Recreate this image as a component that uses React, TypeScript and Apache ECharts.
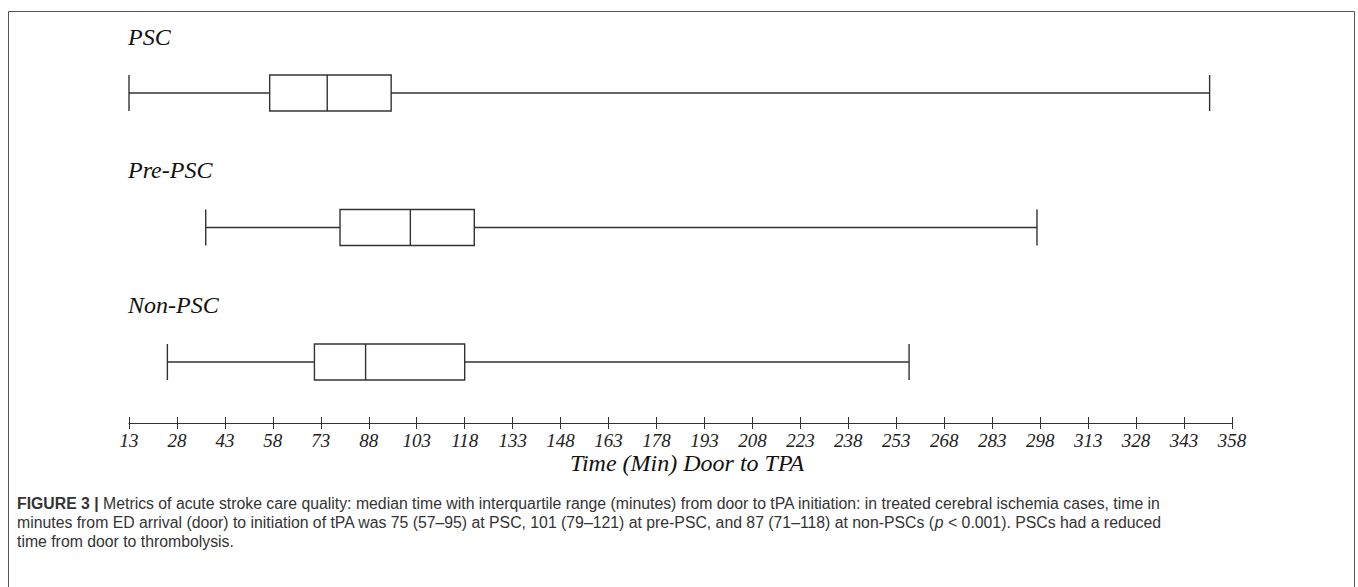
import React, { useEffect, useRef } from "react";
import * as echarts from "echarts";

const categories = ["PSC", "Pre-PSC", "Non-PSC"];
const whiskerLow = [13, 37, 25];
const q1 = [57, 79, 71];
const median = [75, 101, 87];
const q3 = [95, 121, 118];
const whiskerHigh = [351, 297, 257];
const tickValues = [13, 28, 43, 58, 73, 88, 103, 118, 133, 148, 163, 178, 193, 208, 223, 238, 253, 268, 283, 298, 313, 328, 343, 358];
const axisMin = 13;
const axisMax = 358;
const axisTitle = "Time (Min) Door to TPA";
const captionLines = [
  "{b|FIGURE 3 |} Metrics of acute stroke care quality: median time with interquartile range (minutes) from door to tPA initiation: in treated cerebral ischemia cases, time in",
  "minutes from ED arrival (door) to initiation of tPA was 75 (57–95) at PSC, 101 (79–121) at pre-PSC, and 87 (71–118) at non-PSCs ({i|p} < 0.001). PSCs had a reduced",
  "time from door to thrombolysis.",
];

const SERIF = "'Liberation Serif', 'DejaVu Serif', serif";
const SANS = "'Liberation Sans', Arial, sans-serif";
const CAP_SIZE = 15.8;

export default function App() {
  const ref = useRef<HTMLDivElement>(null);
  useEffect(() => {
    if (!ref.current) return;
    const chart = echarts.init(ref.current, null, { renderer: "svg" });
    const boxData = categories.map((_, i) => [whiskerLow[i], q1[i], median[i], q3[i], whiskerHigh[i]]);
    const labelY = [37, 170, 305];
    const captionY = [503, 522, 541];
    const lineColor = "#333";
    chart.setOption({
      animation: false,
      backgroundColor: "#fff",
      grid: [
        { left: 129, right: 126, top: 25.75, height: 403.5 },
        { left: 129, right: 126, top: 422, height: 1 },
      ],
      xAxis: [
        { gridIndex: 0, type: "value", min: axisMin, max: axisMax, show: false },
        {
          gridIndex: 1,
          type: "value",
          min: axisMin,
          max: axisMax,
          position: "bottom",
          axisLine: { show: true, lineStyle: { color: lineColor, width: 1.2 } },
          axisTick: { show: true, inside: true, length: 6, customValues: tickValues, lineStyle: { color: lineColor, width: 1 } },
          axisLabel: {
            customValues: tickValues,
            fontFamily: SERIF,
            fontStyle: "italic",
            fontSize: 19,
            color: "#222",
            margin: 8,
          },
          splitLine: { show: false },
          name: axisTitle,
          nameLocation: "middle",
          nameGap: 28,
          nameTextStyle: { fontFamily: SERIF, fontStyle: "italic", fontSize: 24, color: "#111", padding: [0, 0, 0, 13] },
        },
        {
          gridIndex: 1,
          type: "value",
          min: axisMin,
          max: axisMax,
          position: "bottom",
          axisLine: { show: false },
          axisTick: { show: true, inside: false, length: 6, customValues: tickValues, lineStyle: { color: lineColor, width: 1 } },
          axisLabel: { show: false },
          splitLine: { show: false },
        },
      ],
      yAxis: [
        { gridIndex: 0, type: "category", data: categories, inverse: true, show: false },
        { gridIndex: 1, type: "value", show: false },
      ],
      series: [
        {
          type: "boxplot",
          xAxisIndex: 0,
          yAxisIndex: 0,
          data: boxData,
          boxWidth: [36, 36],
          itemStyle: { color: "#fff", borderColor: lineColor, borderWidth: 1.4 },
          emphasis: { disabled: true },
        },
      ],
      graphic: [
        {
          type: "rect",
          shape: { x: 8.5, y: 11.5, width: 1346, height: 620 },
          style: { fill: "none", stroke: "#555", lineWidth: 1 },
          silent: true,
        },
        ...categories.map((c, i) => ({
          type: "text",
          style: {
            x: 128,
            y: labelY[i],
            text: c,
            fontFamily: SERIF,
            fontStyle: "italic",
            fontSize: 24,
            fill: "#111",
            verticalAlign: "middle",
          },
        })),
        ...captionLines.map((t, i) => ({
          type: "text",
          style: {
            x: 17,
            y: captionY[i],
            text: t,
            fontFamily: SANS,
            fontSize: CAP_SIZE,
            fill: "#333",
            verticalAlign: "middle",
            rich: {
              b: { fontFamily: SANS, fontSize: CAP_SIZE, fontWeight: "bold", fill: "#333", verticalAlign: "middle" },
              i: { fontFamily: SANS, fontSize: CAP_SIZE, fontStyle: "italic", fill: "#333", verticalAlign: "middle" },
            },
          },
        })),
      ],
    });
    return () => chart.dispose();
  }, []);
  return (
    <div
      ref={ref}
      style={{ position: "absolute", left: 0, top: 0, width: 1358, height: 587 }}
    />
  );
}
